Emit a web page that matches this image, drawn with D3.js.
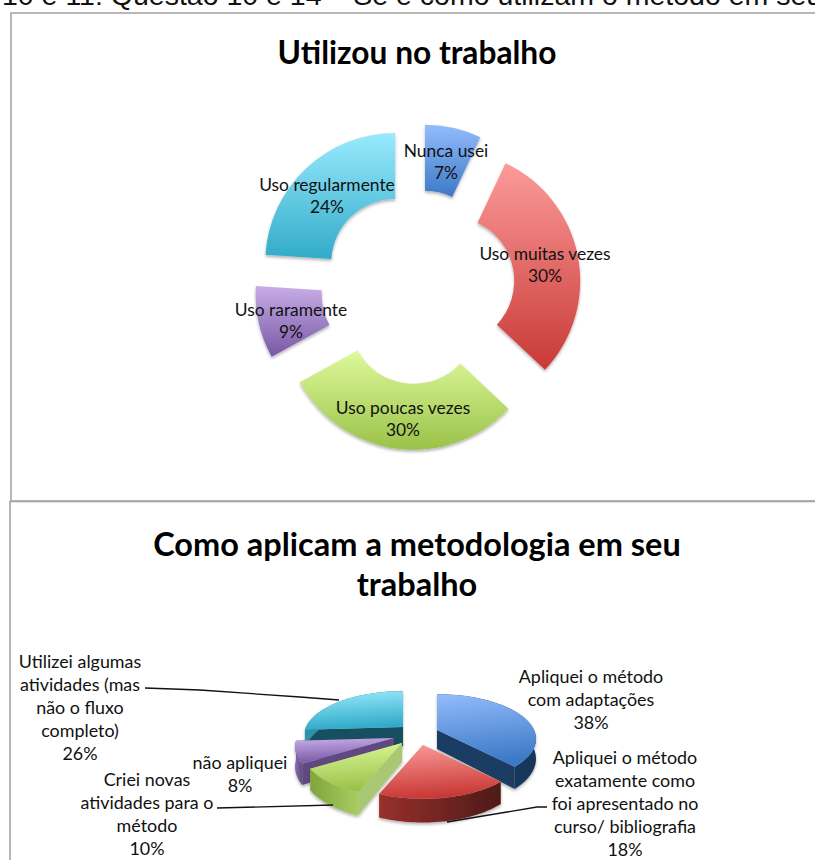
<!DOCTYPE html>
<html><head><meta charset="utf-8">
<script src="https://cdn.jsdelivr.net/npm/d3@7"></script>
<style>html,body{margin:0;padding:0;background:#fff;overflow:hidden}svg{display:block}</style>
</head><body><svg id="c" width="815" height="860"></svg>
<script>
// --- data
const ringCategories = ["Nunca usei","Uso muitas vezes","Uso poucas vezes","Uso raramente","Uso regularmente"];
const ringValues = [7,30,30,9,24];
const pieCategories = ["Apliquei o método com adaptações","Apliquei o método exatamente como foi apresentado no curso/ bibliografia","Criei novas atividades para o método","não apliquei","Utilizei algumas atividades (mas não o fluxo completo)"];
const pieValues = [38,18,10,8,26];
const ringTitle = ["Utilizou no trabalho"];
const pieTitle = ["Como aplicam a metodologia em seu","trabalho"];
const headerText = "10 e 11: Questão 10 e 14 – Se e como utilizam o método em seu";

// --- layout
const svg = d3.select("#c");
const defs = svg.append("defs");
const FONT = "Lato, Carlito, sans-serif";
const faceColors = [["#93bcfc","#3c79c6"],["#fc9b9a","#c83936"],["#def99c","#9ac248"],["#c8ade8","#7757a3"],["#9aeafd","#31abc9"]];
faceColors.forEach((c,i)=>{
  const g=defs.append("linearGradient").attr("id","f"+i).attr("x1",0).attr("y1",0).attr("x2",0).attr("y2",1);
  g.append("stop").attr("offset",0).attr("stop-color",c[0]);
  g.append("stop").attr("offset",1).attr("stop-color",c[1]);
});
const shadow = defs.append("filter").attr("id","sh").attr("x","-10%").attr("y","-10%").attr("width","120%").attr("height","125%");
shadow.append("feDropShadow").attr("dx",0).attr("dy",2).attr("stdDeviation",1.6).attr("flood-color","#000").attr("flood-opacity",.3);

// page chrome
svg.append("text").attr("x",2).attr("y",5).attr("font-family","Liberation Sans, Arial, sans-serif").attr("font-size",28.5).attr("fill","#111").text(headerText);
svg.append("rect").attr("x",11).attr("y",13).attr("width",830).attr("height",488).attr("fill","#fff").attr("stroke","#a6a6a6").attr("stroke-width",1.6);
svg.append("rect").attr("x",10).attr("y",501.5).attr("width",830).attr("height",420).attr("fill","#fff").attr("stroke","#a6a6a6").attr("stroke-width",1.6);

function title(lines,size,cx,y0,dy){
  lines.forEach((t,i)=>svg.append("text").attr("x",cx).attr("y",y0+i*dy).attr("text-anchor","middle")
    .attr("font-family",FONT).attr("font-weight",700).attr("font-size",size).attr("fill","#000").text(t));
}
function label(lines,cx,y0,ls,lh){
  lines.forEach((t,i)=>svg.append("text").attr("x",cx).attr("y",y0+i*lh).attr("text-anchor","middle")
    .attr("font-family",FONT).attr("font-size",ls).attr("fill","#111").text(t));
}
const LH1=22, LS1=17.4, LH2=23, LS2=17.9;
title(ringTitle,31.7,417,64,0);
title(pieTitle,32.5,417,556,40);

// --- ring chart
const ringCx=417.8, ringCy=287, ringExplode=33;
const pie=d3.pie().sort(null);
const ringArcs=pie(ringValues);
const arc=d3.arc().innerRadius(64).outerRadius(130);
const ring=svg.append("g").attr("transform",`translate(${ringCx},${ringCy})`);
ring.selectAll("path").data(ringArcs).join("path")
  .attr("transform",d=>{const m=(d.startAngle+d.endAngle)/2;return `translate(${ringExplode*Math.sin(m)},${-ringExplode*Math.cos(m)})`;})
  .attr("d",arc).attr("fill",(d,i)=>`url(#f${i})`).attr("filter","url(#sh)");

const ringLabels=[[446,157],[545,260],[403,414],[291,316],[327,191]];
ringCategories.forEach((c,i)=>label([c,ringValues[i]+"%"],ringLabels[i][0],ringLabels[i][1],LS1,LH1));

// --- tilted pie
const sx=d3.scaleLinear().domain([0,1]).range([0,97]);
const sy=d3.scaleLinear().domain([0,1]).range([0,43]);
const persp=.2, depth=19;
const pieArcs=pie(pieValues);
const apex=[[437,730],[423,745],[402,743],[394,738],[403,727]];
function proj(i,r,a,z){
  const X=r*Math.sin(a),Y=-r*Math.cos(a),s=1/(1-persp*Y);
  return [apex[i][0]+sx(X*s),apex[i][1]+sy(Y*s)+(z?depth*(r?s:1):0)];
}
const wallColors=[["#1d3d66","#163658"],["#98302c","#4e1a18"],["#7fa53c","#a8cc62"],["#8a6cb5","#5d4a7c"],["#2f94ac","#1a5663"]];
const radialColors=["#1f3d63","#b4cf7f","#a9c873","#5f4a80","#16505e"];
faceColors.forEach((c,i)=>{
  const g=defs.append("linearGradient").attr("id","w"+i).attr("x1",0).attr("y1",0).attr("x2",1).attr("y2",0);
  g.append("stop").attr("offset",0).attr("stop-color",wallColors[i][0]);
  g.append("stop").attr("offset",1).attr("stop-color",wallColors[i][1]);
  const t=defs.append("linearGradient").attr("id","t"+i).attr("x1",0).attr("y1",0).attr("x2",.15).attr("y2",1);
  t.append("stop").attr("offset",0).attr("stop-color",c[0]);
  t.append("stop").attr("offset",1).attr("stop-color",c[1]);
});
const line=d3.line();
const drawOrder=[4,3,2,0,1];
const pg=svg.append("g").attr("id","pie3d");
drawOrder.forEach(i=>{
  const d=pieArcs[i];
  const angs=d3.range(0,41).map(k=>d.startAngle+(d.endAngle-d.startAngle)*k/40);
  const g=pg.append("g").attr("filter","url(#sh)");
  const rim=(z)=>angs.map(a=>proj(i,1,a,z));
  const c0=proj(i,0,0,0), c1=proj(i,0,0,1);
  [d.startAngle,d.endAngle].forEach(a=>{
    const p0=proj(i,1,a,0),p1=proj(i,1,a,1);
    g.append("path").attr("d",line([c0,p0,p1,c1])+"Z").attr("fill",radialColors[i]);
  });
  g.append("path").attr("d",line([...rim(0),...rim(1).reverse()])+"Z").attr("fill",`url(#w${i})`);
  g.append("path").attr("d",line([c0,...rim(0)])+"Z").attr("fill",`url(#t${i})`);
});

// leader lines
const leaders=[[[145,688],[200,690],[300,697],[339,700]],[[217,808],[333,805]],[[547,807],[537,807],[447,822]]];
leaders.forEach(p=>svg.append("path").attr("d",line(p)).attr("fill","none").attr("stroke","#111").attr("stroke-width",1.3));

label(["Apliquei o método","com adaptações",pieValues[0]+"%"],591,683,LS2,LH2);
label(["Apliquei o método","exatamente como","foi apresentado no","curso/ bibliografia",pieValues[1]+"%"],625,764,LS2,LH2);
label(["Criei novas","atividades para o","método",pieValues[2]+"%"],147,786,LS2,LH2);
label(["não apliquei",pieValues[3]+"%"],240,769,LS2,LH2);
label(["Utilizei algumas","atividades (mas","não o fluxo","completo)",pieValues[4]+"%"],80,668,LS2,LH2);
</script></body></html>
